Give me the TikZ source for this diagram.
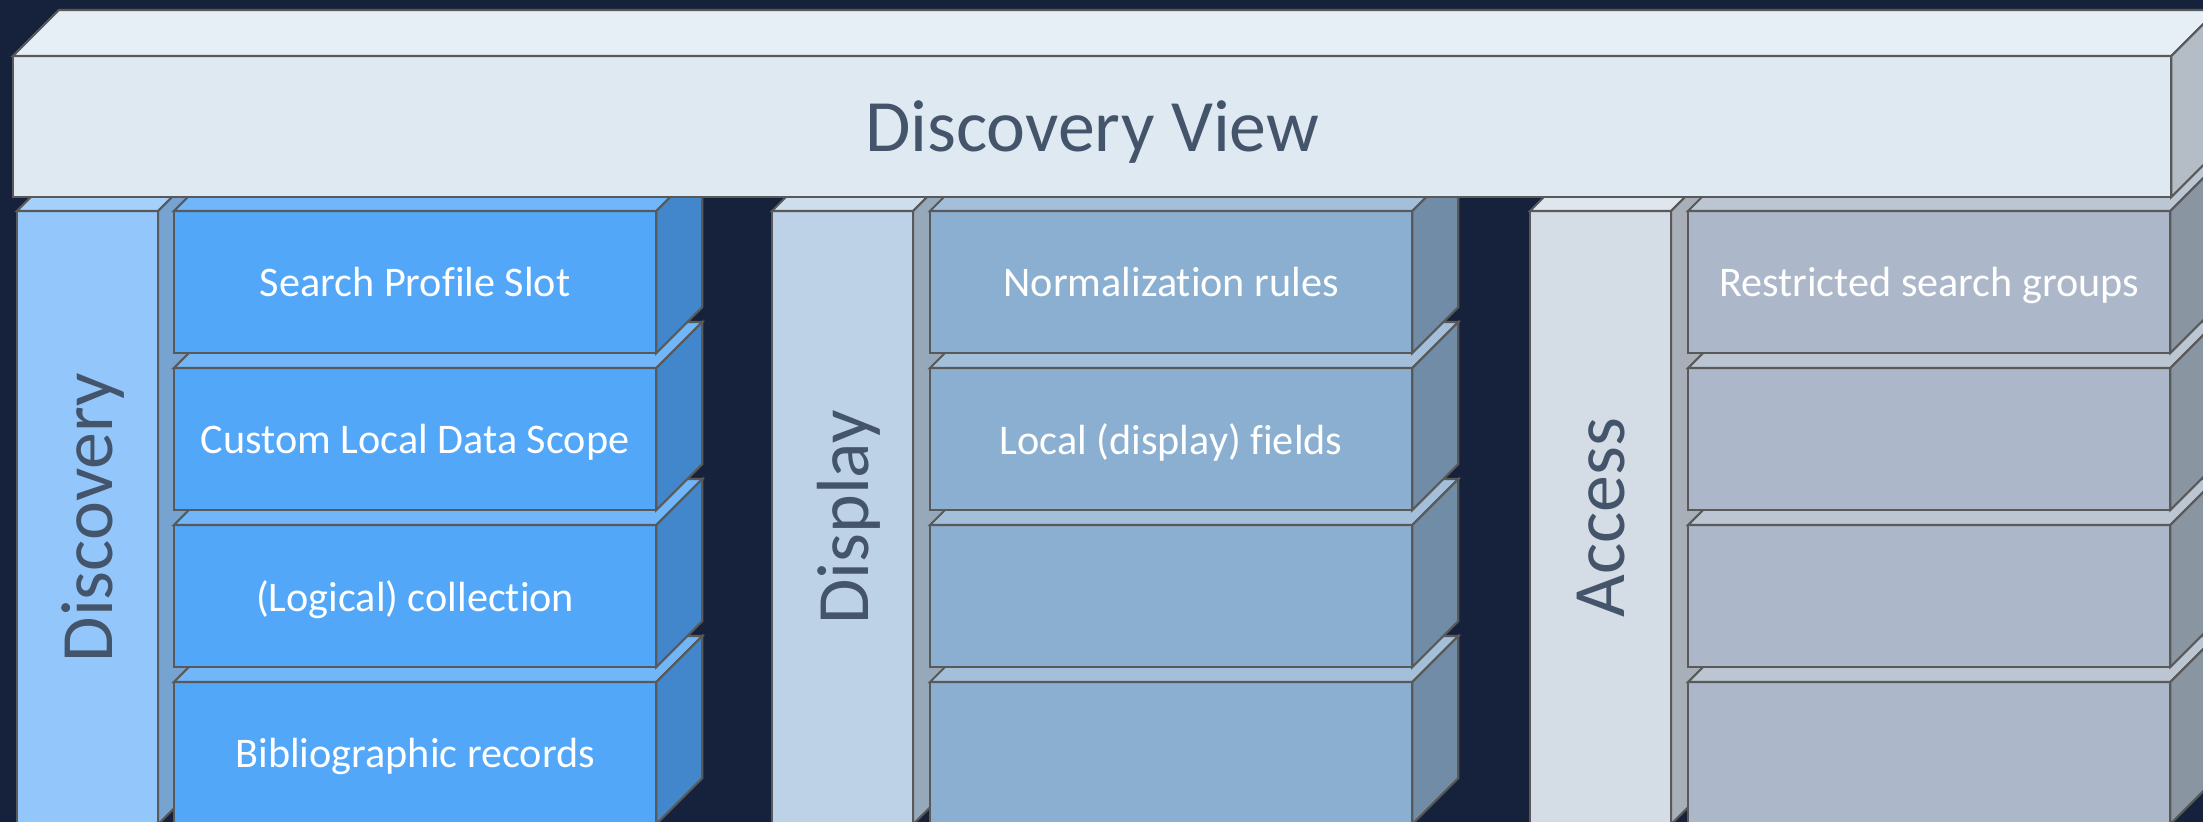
\documentclass[tikz,border=0pt]{standalone}
\usepackage{fontspec}
\setmainfont{Carlito}[Ligatures=NoCommon]
\usetikzlibrary{positioning,calc}

\definecolor{bg}{RGB}{22,34,59}
\definecolor{edgegray}{RGB}{89,89,89}
\definecolor{labelblue}{RGB}{68,84,106}
\definecolor{viewfront}{RGB}{223,233,242}
\definecolor{viewtop}{RGB}{230,238,246}
\definecolor{viewside}{RGB}{180,188,197}
\definecolor{disccol}{RGB}{147,199,251}
\definecolor{disccoltop}{RGB}{165,208,250}
\definecolor{disccolside}{RGB}{118,163,207}
\definecolor{discbox}{RGB}{82,167,249}
\definecolor{discboxtop}{RGB}{112,182,248}
\definecolor{discboxside}{RGB}{66,135,204}
\definecolor{dispcol}{RGB}{189,210,230}
\definecolor{dispcoltop}{RGB}{207,222,236}
\definecolor{dispcolside}{RGB}{150,169,187}
\definecolor{dispbox}{RGB}{139,175,209}
\definecolor{dispboxtop}{RGB}{163,191,218}
\definecolor{dispboxside}{RGB}{112,140,166}
\definecolor{acccol}{RGB}{212,220,230}
\definecolor{acccoltop}{RGB}{224,230,238}
\definecolor{acccolside}{RGB}{168,175,184}
\definecolor{accbox}{RGB}{172,183,201}
\definecolor{accboxtop}{RGB}{187,198,210}
\definecolor{accboxside}{RGB}{138,149,162}

% top and right faces of a block, from the anchors of its front node
\newcommand\blockfaces[3]{%
  \filldraw[edge-line, fill=#2] (#1.north west) -- ++(46,46)
    -- ($(#1.north east)+(46,46)$) -- (#1.north east) -- cycle;
  \filldraw[edge-line, fill=#3] (#1.north east) -- ++(46,46)
    -- ($(#1.south east)+(46,46)$) -- (#1.south east) -- cycle;
}

\begin{document}
\begin{tikzpicture}[
  x=0.01cm, y=0.01cm,
  every node/.style={inner sep=0pt, outer sep=0pt},
  edge-line/.style={draw=edgegray, line width=0.6pt, line join=miter},
  pillar/.style={edge-line, anchor=north west, minimum width=1.41cm, minimum height=6.13cm},
  pillar-text/.style={rotate=90, text depth=0pt, text=labelblue, font=\fontsize{21}{25}\selectfont},
  layer/.style={edge-line, anchor=north west, minimum width=4.82cm, minimum height=1.42cm,
    text depth=0pt, text=white, font=\fontsize{12}{14}\selectfont},
  ]

  \useasboundingbox (0,0) rectangle (2203,822);
  \clip (0,0) rectangle (2203,822);
  \fill[bg] (0,0) rectangle (2203,822);

  % discovery
  \node[pillar, fill=disccol] (disc-col) at (17,611) {};
  \blockfaces{disc-col}{disccoltop}{disccolside}
  \node[pillar-text] (disc-text) at (disc-col) {Discovery};
  \node[layer, fill=discbox] (disc-box4) at (174,140) {Bibliographic records};
  \blockfaces{disc-box4}{discboxtop}{discboxside}
  \node[layer, fill=discbox] (disc-box3) at (174,297) {(Logical) collection};
  \blockfaces{disc-box3}{discboxtop}{discboxside}
  \node[layer, fill=discbox] (disc-box2) at (174,454) {Custom Local Data Scope};
  \blockfaces{disc-box2}{discboxtop}{discboxside}
  \node[layer, fill=discbox] (disc-box1) at (174,611) {Search Profile Slot};
  \blockfaces{disc-box1}{discboxtop}{discboxside}

  % display
  \node[pillar, fill=dispcol] (disp-col) at (772,611) {};
  \blockfaces{disp-col}{dispcoltop}{dispcolside}
  \node[pillar-text] (disp-text) at (disp-col) {Display};
  \node[layer, fill=dispbox] (disp-box4) at (930,140) {};
  \blockfaces{disp-box4}{dispboxtop}{dispboxside}
  \node[layer, fill=dispbox] (disp-box3) at (930,297) {};
  \blockfaces{disp-box3}{dispboxtop}{dispboxside}
  \node[layer, fill=dispbox] (disp-box2) at (930,454) {Local (display) fields};
  \blockfaces{disp-box2}{dispboxtop}{dispboxside}
  \node[layer, fill=dispbox] (disp-box1) at (930,611) {Normalization rules};
  \blockfaces{disp-box1}{dispboxtop}{dispboxside}

  % access
  \node[pillar, fill=acccol] (acc-col) at (1530,611) {};
  \blockfaces{acc-col}{acccoltop}{acccolside}
  \node[pillar-text] (acc-text) at (acc-col) {Access};
  \node[layer, fill=accbox] (acc-box4) at (1688,140) {};
  \blockfaces{acc-box4}{accboxtop}{accboxside}
  \node[layer, fill=accbox] (acc-box3) at (1688,297) {};
  \blockfaces{acc-box3}{accboxtop}{accboxside}
  \node[layer, fill=accbox] (acc-box2) at (1688,454) {};
  \blockfaces{acc-box2}{accboxtop}{accboxside}
  \node[layer, fill=accbox] (acc-box1) at (1688,611) {Restricted search groups};
  \blockfaces{acc-box1}{accboxtop}{accboxside}

  % view bar on top
  \node[edge-line, anchor=north west, minimum width=21.57cm, minimum height=1.41cm,
    text depth=0pt, fill=viewfront, text=labelblue, font=\fontsize{21}{25}\selectfont]
    (view-bar) at (13,766) {Discovery View};
  \blockfaces{view-bar}{viewtop}{viewside}

\end{tikzpicture}
\end{document}
